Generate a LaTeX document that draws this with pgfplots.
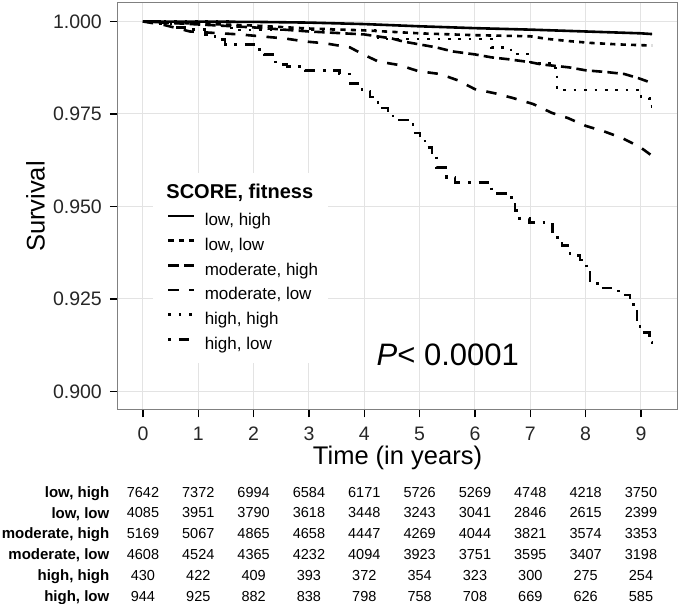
\documentclass[border=0pt]{standalone}
\usepackage{fontspec}
\setmainfont{Liberation Sans}
\usepackage{pgfplots}
\pgfplotsset{compat=1.18}
\newcommand{\fs}[1]{\fontsize{#1}{#1}\selectfont}
\begin{document}
\begin{tikzpicture}[x=1pt,y=1pt]
\useasboundingbox (0,0) rectangle (680,604);
\begin{axis}[
  name=main,
  at={(117.5pt,194pt)}, anchor=south west,
  scale only axis, width=560pt, height=407pt,
  xmin=-0.46, xmax=9.66, ymin=0.895, ymax=1.005,
  xtick={0,...,9}, xticklabels={0,1,2,3,4,5,6,7,8,9},
  ytick={0.9,0.925,0.95,0.975,1.0},
  yticklabels={0.900,0.925,0.950,0.975,1.000},
  tick align=outside, tick pos=left, major tick length=7.5pt,
  every tick/.style={black, line width=1.3pt},
  axis line style={draw=black!50, line width=1pt},
  grid=major, major grid style={draw=black!11, line width=1pt},
  xticklabel style={font=\fs{19.5}, text=black!85, anchor=base, inner sep=0pt, yshift=-22.8pt},
  yticklabel style={font=\fs{19.5}, text=black!85, anchor=east, inner sep=0pt, xshift=-8pt},
  every axis x label/.style={at={(axis description cs:0.5,-0.1351)}, anchor=base, inner sep=0pt},
  every axis y label/.style={at={(axis description cs:-0.130,0.5)}, rotate=90, anchor=base, inner sep=0pt},
  xlabel={\fs{25.5}Time (in years)},
  ylabel={\fs{25.5}Survival},
  legend style={at={(axis cs:0.434,0.9482)}, anchor=north west, draw=none, fill=none,
    inner sep=0pt, font=\fs{17}, row sep=8.4pt,
    nodes={inner sep=0pt, text height=12.5pt, text depth=3.8pt},
    /tikz/every odd column/.append style={column sep=9pt}},
  legend cell align=left,
  legend image code/.code={\draw[#1] (0pt,5.7pt) -- (26pt,5.7pt);},
  every axis plot/.append style={line width=2.6pt, line cap=butt, black},
]
\node[fill=white, inner sep=0pt, minimum width=175pt, minimum height=190pt, anchor=north west] at (axis cs:0.181,0.95914) {};
\node[anchor=base west, font=\bfseries\fs{20}] at (axis cs:0.361,0.95215) {SCORE, fitness};
\node[anchor=base west, font=\fs{31}] at (axis cs:4.16,0.9070) {\textit{P}< 0.0001};

\addplot[solid] coordinates {(0,1.0) (1,0.99995) (2,0.9999) (3,0.9997) (4,0.9993) (5,0.9987) (6,0.9982) (7,0.9978) (8,0.9973) (9,0.9968) (9.2,0.9966)};
\addlegendentry{low, high}
\addplot[dash pattern=on 5.2pt off 5.2pt] coordinates {(0,1) (0.5,0.9997) (1,0.9994) (2,0.9989) (3,0.9981) (4,0.9976) (5,0.9968) (6,0.9963) (7,0.9960) (7.3,0.9953) (7.7,0.9947) (8.1,0.9942) (8.6,0.9938) (9.2,0.9935)};
\addlegendentry{low, low}
\addplot[dash pattern=on 10.4pt off 5.2pt] coordinates {(0,1) (1,0.9992) (2,0.9984) (3,0.9973) (4,0.9965) (4.5,0.9954) (4.7,0.9946) (5.0,0.9938) (5.3,0.9930) (5.6,0.9919) (6.0,0.9911) (6.3,0.9903) (6.6,0.9898) (7.0,0.9890) (7.2,0.9884) (7.7,0.9876) (8.0,0.9868) (8.4,0.9863) (8.7,0.9858) (8.95,0.9847) (9.1,0.9839) (9.2,0.9833)};
\addlegendentry{moderate, high}
\addplot[dash pattern=on 10.4pt off 10.4pt] coordinates {(0,1) (0.4,0.9990) (0.85,0.9973) (1.75,0.9965) (2.57,0.9954) (2.93,0.9946) (3.29,0.9941) (3.74,0.9930) (3.98,0.9911) (4.25,0.9892) (4.64,0.9882) (4.97,0.9866) (5.37,0.9858) (5.69,0.9841) (6.0,0.9817) (6.36,0.9806) (6.69,0.9793) (7.05,0.9777) (7.39,0.9753) (7.68,0.9739) (8.0,0.9718) (8.35,0.9702) (8.66,0.9685) (8.98,0.9661) (9.2,0.9637)};
\addlegendentry{moderate, low}
\addplot[const plot, dash pattern=on 2.6pt off 7.8pt] coordinates {(0,1) (1.6,0.9977) (4.25,0.9953) (6.3,0.9929) (6.65,0.9912) (7.0,0.9887) (7.45,0.9855) (7.48,0.9815) (9.0,0.9793) (9.15,0.9770) (9.2,0.9770)};
\addlegendentry{high, high}
\addplot[const plot, dash pattern=on 2.6pt off 7.8pt on 10.4pt off 7.8pt] coordinates {(0,1.0) (0.31,0.9995) (0.58,0.9984) (0.85,0.9979) (1.12,0.9965) (1.30,0.9952) (1.48,0.9938) (2.05,0.9925) (2.19,0.9911) (2.39,0.9884) (2.6,0.9879) (2.93,0.9868) (3.55,0.9858) (3.74,0.9833) (3.96,0.9812) (4.10,0.9796) (4.25,0.9766) (4.43,0.9745) (4.55,0.9734) (4.88,0.9699) (5.01,0.9677) (5.10,0.9659) (5.22,0.9637) (5.31,0.9605) (5.49,0.9578) (5.64,0.9565) (6.30,0.9535) (6.58,0.9524) (6.72,0.9489) (6.81,0.9468) (6.99,0.9457) (7.40,0.9417) (7.57,0.9395) (7.72,0.9368) (7.90,0.9355) (8.01,0.9323) (8.08,0.9296) (8.21,0.9280) (8.49,0.9272) (8.71,0.9261) (8.80,0.9247) (8.86,0.9229) (8.93,0.9194) (8.98,0.9159) (9.15,0.9134) (9.20,0.9116)};
\addlegendentry{high, low}
\end{axis}

\begin{axis}[
  at={(117.5pt,-2.4pt)}, anchor=south west,
  scale only axis, width=560pt, height=124.8pt,
  xmin=-0.46, xmax=9.66, ymin=0.5, ymax=6.5, y dir=reverse,
  axis line style={draw=none}, xtick=\empty,
  ytick={1,2,3,4,5,6},
  yticklabels={{low, high},{low, low},{moderate, high},{moderate, low},{high, high},{high, low}},
  major tick length=0pt,
  yticklabel style={font=\bfseries\fs{15}, inner sep=0pt, text height=10.7pt, text depth=0pt, anchor=east, xshift=-8pt},
  clip=false,
  nodes near coords, nodes near coords align=center,
  every node near coord/.append style={font=\fs{14.5}, text=black, inner sep=0pt, text height=10.4pt, text depth=0pt, anchor=center},
  point meta=explicit symbolic,
]
\addplot[draw=none, mark=none] coordinates {(0,1)[7642] (1,1)[7372] (2,1)[6994] (3,1)[6584] (4,1)[6171] (5,1)[5726] (6,1)[5269] (7,1)[4748] (8,1)[4218] (9,1)[3750]};
\addplot[draw=none, mark=none] coordinates {(0,2)[4085] (1,2)[3951] (2,2)[3790] (3,2)[3618] (4,2)[3448] (5,2)[3243] (6,2)[3041] (7,2)[2846] (8,2)[2615] (9,2)[2399]};
\addplot[draw=none, mark=none] coordinates {(0,3)[5169] (1,3)[5067] (2,3)[4865] (3,3)[4658] (4,3)[4447] (5,3)[4269] (6,3)[4044] (7,3)[3821] (8,3)[3574] (9,3)[3353]};
\addplot[draw=none, mark=none] coordinates {(0,4)[4608] (1,4)[4524] (2,4)[4365] (3,4)[4232] (4,4)[4094] (5,4)[3923] (6,4)[3751] (7,4)[3595] (8,4)[3407] (9,4)[3198]};
\addplot[draw=none, mark=none] coordinates {(0,5)[430] (1,5)[422] (2,5)[409] (3,5)[393] (4,5)[372] (5,5)[354] (6,5)[323] (7,5)[300] (8,5)[275] (9,5)[254]};
\addplot[draw=none, mark=none] coordinates {(0,6)[944] (1,6)[925] (2,6)[882] (3,6)[838] (4,6)[798] (5,6)[758] (6,6)[708] (7,6)[669] (8,6)[626] (9,6)[585]};
\end{axis}
\end{tikzpicture}
\end{document}
